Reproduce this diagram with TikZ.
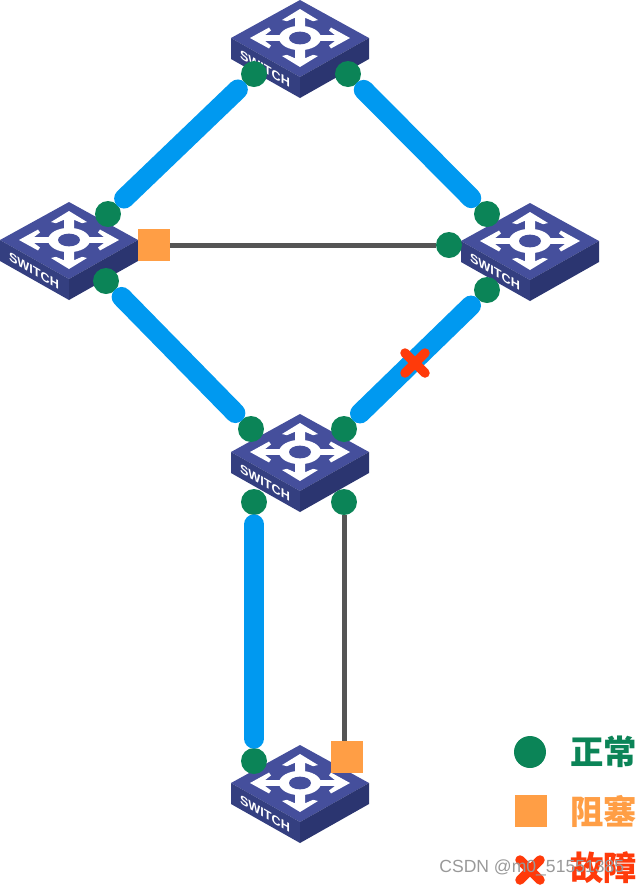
\documentclass[tikz,border=0pt]{standalone}
\usepackage{fontspec}
\setmainfont{Liberation Sans}
\newfontfamily\cjkfont{Noto Sans CJK SC}
\usepackage{tikz}
\definecolor{okgreen}{HTML}{0B8457}
\definecolor{linkblue}{HTML}{0099F0}
\definecolor{blockorange}{HTML}{FF9E45}
\definecolor{failred}{HTML}{FF3A0A}
\definecolor{linkgray}{HTML}{555555}
\definecolor{facetop}{HTML}{454F9C}
\definecolor{faceleft}{HTML}{343F80}
\definecolor{faceright}{HTML}{2B3570}
\tikzset{
  portdot/.style={circle, fill=okgreen, inner sep=0, minimum size=0.52cm},
  blocksq/.style={rectangle, fill=blockorange, inner sep=0, minimum size=0.64cm},
  uplink/.style={linkblue, line width=0.4cm, line cap=round, shorten <=0.18cm, shorten >=0.18cm},
  backup/.style={linkgray, line width=0.1cm},
  failx/.style={failred, line width=0.19cm, line cap=round},
  legendtext/.style={font=\cjkfont\bfseries\fontsize{19}{20}\selectfont, anchor=west, inner sep=0},
}
\newcommand{\port}{
node[portdot]
}
\newcommand{\switch}[3]{
\begin{scope}[shift={(#1,#2)}]
\path (0,0) coordinate (#3);
\fill[facetop] (-69,0) -- (0,-38) -- (69,0) -- (0,39) -- cycle;
\fill[faceleft] (-69,0) -- (0,39) -- (0,60) -- (-69,21) -- cycle;
\fill[faceright] (69,0) -- (0,39) -- (0,60) -- (69,21) -- cycle;
\begin{scope}[yscale=0.58]
\foreach \a in {0,90,180,270} {
  \fill[white, rotate=\a] (14,-5) -- (35,-5) -- (29,-13) -- (31,-18) -- (50,0)
      -- (31,18) -- (29,13) -- (35,5) -- (14,5) -- cycle;
}
\fill[white] (0,0) ellipse[x radius=21, y radius=21];
\fill[facetop] (0,0) ellipse[x radius=11, y radius=11];
\end{scope}
\node[text=white, inner sep=0, cm={1,-0.58,0,1,(0,0)}, font=\bfseries\fontsize{7.2}{8}\selectfont] (#3label) at (-35,31) {SWITCH};
\end{scope}
}
\newcommand{\failmark}[1]{
\draw[failx] ($(#1)+(-10,-10)$) -- ($(#1)+(10,10)$);
\draw[failx] ($(#1)+(-10,10)$) -- ($(#1)+(10,-10)$);
}
\usetikzlibrary{calc}

\begin{document}
\begin{tikzpicture}[x=0.02cm, y=-0.02cm]
\useasboundingbox (0,0) rectangle (641,887);
% switches
\switch{300}{38}{swtop}
\switch{69}{240}{swleft}
\switch{530}{241}{swright}
\switch{300}{452}{swmid}
\switch{300}{783}{swbot}
% ports
\path (254,74) \port (t1) {};
\path (348,74) \port (t2) {};
\path (108,214) \port (l1) {};
\path (106,281) \port (l2) {};
\path (487,214) \port (r1) {};
\path (449,245) \port (r2) {};
\path (487,290) \port (r3) {};
\path (251,429) \port (m1) {};
\path (344,429) \port (m2) {};
\path (254,502) \port (m3) {};
\path (344,502) \port (m4) {};
\path (254,761) \port (b1) {};
\node[blocksq] (lblock) at (154,245) {};
\node[blocksq] (bblock) at (347,757) {};
% links
\draw[uplink] (t1) -- (l1);
\draw[uplink] (t2) -- (r1);
\draw[uplink] (l2) -- (m1);
\draw[uplink] (r3) -- (m2);
\draw[uplink] (m3) -- (b1);
\draw[backup] (lblock) -- (r2);
\draw[backup] (m4) -- (m4 |- bblock.north);
% failed link
\coordinate (fail) at (415,363);
\failmark{fail}
% legend
\node[portdot, minimum size=0.64cm] (keyok) at (530,752) {};
\node[blocksq] (keyblock) at (531,811) {};
\coordinate (keyfail) at (530,870);
\failmark{keyfail}
\node[legendtext, text=okgreen] (txtok) at (570,752) {正常};
\node[legendtext, text=blockorange] (txtblock) at (570,811) {阻塞};
\node[legendtext, text=failred] (txtfail) at (570,868) {故障};
\node[text=gray!80, anchor=west, inner sep=0, font=\fontsize{10}{11}\selectfont] (mark) at (439,868) {CSDN @m0\_51551385};
\end{tikzpicture}
\end{document}
